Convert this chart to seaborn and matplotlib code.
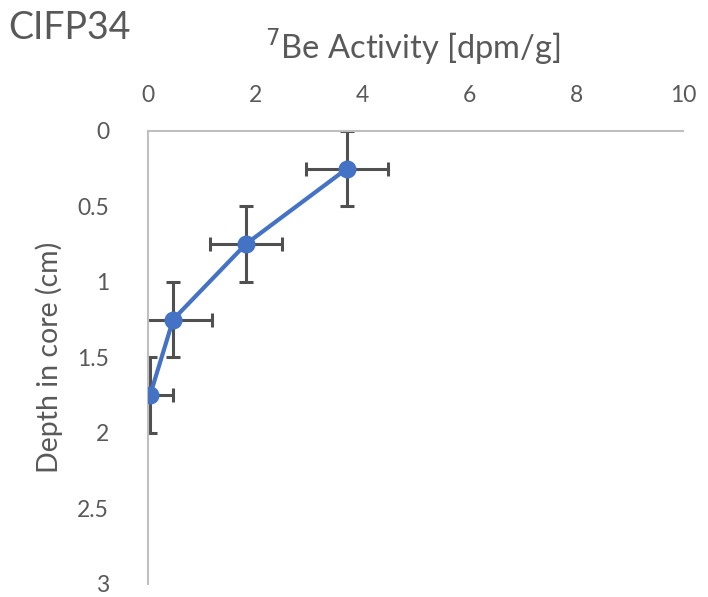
import matplotlib
matplotlib.use("Agg")
import matplotlib.pyplot as plt
import seaborn as sns
import pandas as pd

activity = [3.72, 1.83, 0.47, 0.04]
activity_err = [0.76, 0.68, 0.73, 0.43]
depth = [0.25, 0.75, 1.25, 1.75]
depth_err = [0.25, 0.25, 0.25, 0.25]
x_ticks = [0, 2, 4, 6, 8, 10]
y_ticks = [0, 0.5, 1, 1.5, 2, 2.5, 3]
y_tick_labels = ["0", "0.5", "1", "1.5", "2", "2.5", "3"]

sns.set_style("white")
plt.rcParams["font.family"] = ["Lato", "DejaVu Sans"]

df = pd.DataFrame({"activity": activity, "depth": depth})

fig = plt.figure(figsize=(7.08, 5.97), dpi=100)
ax = fig.add_axes([0.209, 0.022, 0.756, 0.759])

ax.errorbar(activity, depth, xerr=activity_err, yerr=depth_err, fmt="none",
            ecolor="#505050", elinewidth=2.2, capsize=5, capthick=2.2, zorder=2)
sns.lineplot(data=df, x="activity", y="depth", sort=False, estimator=None,
             color="#4472C4", linewidth=3, marker="o", markersize=13,
             markeredgewidth=0, ax=ax, zorder=3)

ax.set_xlim(0, 10)
ax.set_ylim(3, 0)
ax.xaxis.tick_top()
ax.set_xticks(x_ticks)
ax.set_yticks(y_ticks)
ax.set_yticklabels(y_tick_labels)
ax.tick_params(axis="both", length=0, labelsize=16.5, colors="#595959")
ax.tick_params(axis="x", pad=18)
ax.tick_params(axis="y", pad=28)
for s in ["right", "bottom"]:
    ax.spines[s].set_visible(False)
for s in ["left", "top"]:
    ax.spines[s].set_color("#BFBFBF")
    ax.spines[s].set_linewidth(1.5)

ax.set_xlabel("")
ax.set_ylabel("Depth in core (cm)", fontsize=20.5, color="#595959", labelpad=10)
fig.text(0.583, 0.922, r"$^{7}$Be Activity [dpm/g]", fontsize=23.5, color="#595959",
         ha="center", va="center")
fig.text(0.012, 0.953, "CIFP34", fontsize=27, color="#595959", ha="left", va="center")

fig.savefig("out.png", dpi=100)
